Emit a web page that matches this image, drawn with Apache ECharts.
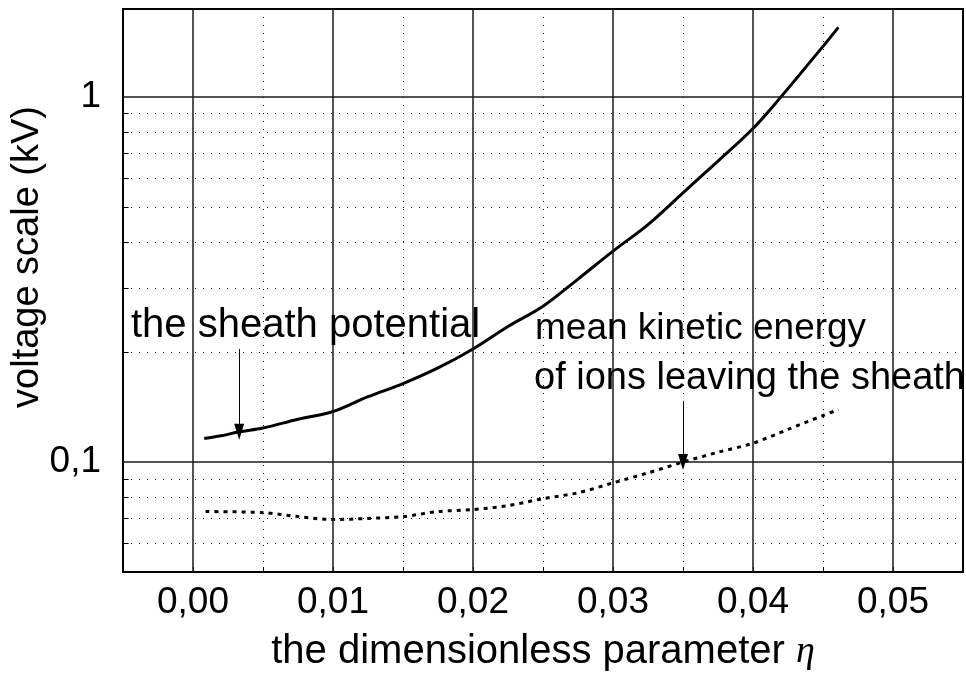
<!DOCTYPE html>
<html>
<head>
<meta charset="utf-8">
<script src="https://cdn.jsdelivr.net/npm/echarts@6/dist/echarts.min.js"></script>
<style>
  html, body { margin: 0; padding: 0; background: #fff; }
  #chart { width: 966px; height: 677px; }
</style>
</head>
<body>
<div id="chart"></div>
<script>
// Sheath potential versus the dimensionless parameter eta (kV, log scale)
const etaSheath = [0.0008, 0.002, 0.0033, 0.005, 0.0075, 0.01, 0.0125, 0.015, 0.0175, 0.02,
  0.0225, 0.025, 0.0275, 0.03, 0.0325, 0.035, 0.0375, 0.04, 0.042, 0.045, 0.0461];
const sheathPotential = [0.116, 0.118, 0.121, 0.124, 0.131, 0.1375, 0.151, 0.164, 0.181, 0.204,
  0.235, 0.267, 0.317, 0.378, 0.447, 0.546, 0.667, 0.819, 1.0, 1.375, 1.55];

// Mean kinetic energy of ions leaving the sheath (kV)
const etaKinetic = [0.0009, 0.005, 0.0075, 0.01, 0.0125, 0.015, 0.0175, 0.02, 0.0225, 0.025,
  0.0275, 0.03, 0.0325, 0.035, 0.0375, 0.04, 0.0425, 0.045, 0.0461];
const kineticEnergy = [0.0732, 0.0727, 0.0709, 0.0696, 0.0701, 0.0709, 0.0732, 0.0741, 0.076, 0.0794,
  0.0824, 0.0877, 0.0934, 0.1, 0.1064, 0.1126, 0.1229, 0.1341, 0.1392];

// Axis ticks and labels
const xTickValues = [0, 0.01, 0.02, 0.03, 0.04, 0.05];
const xTickLabels = ['0,00', '0,01', '0,02', '0,03', '0,04', '0,05'];
const yTickValues = [0.1, 1];
const yTickLabels = ['0,1', '1'];
const yMinorValues = [0.06, 0.07, 0.08, 0.09, 0.2, 0.3, 0.4, 0.5, 0.6, 0.7, 0.8, 0.9];

// Arrows pointing from the captions to the curves: [eta, from, to]
const sheathArrow = [0.0033, 0.204, 0.121];
const kineticArrow = [0.035, 0.147, 0.1];

const X_MIN = -0.005, X_MAX = 0.055, Y_MIN = 0.05, Y_MAX = 1.74;
const FONT = 'Liberation Sans, Arial, sans-serif';

function labelFor(values, labels, v) {
  for (let i = 0; i < values.length; i++) {
    if (Math.abs(values[i] - v) < 1e-9 * Math.max(1, Math.abs(v)) + 1e-9) return labels[i];
  }
  return '';
}

const solidGrid = { type: 'solid', color: '#1a1a1a', width: 1.5 };
const dotGrid = { type: [1, 7], color: '#000', width: 1 };

const gridLines = []
  .concat(yMinorValues.map(v => ({ yAxis: v, lineStyle: dotGrid })))
  .concat(xTickValues.map(v => ({ xAxis: v, lineStyle: solidGrid })))
  .concat(yTickValues.map(v => ({ yAxis: v, lineStyle: solidGrid })));

// short inward ticks on the value axis at each minor value
const Y_TICK_LEN = 0.0004;
const yTicks = yMinorValues.map(v => [
  { coord: [X_MIN, v], lineStyle: { type: 'solid', color: '#000', width: 1 } },
  { coord: [X_MIN + Y_TICK_LEN, v] }
]);

const chart = echarts.init(document.getElementById('chart'), null, { renderer: 'canvas' });

chart.setOption({
  animation: false,
  backgroundColor: '#fff',
  grid: {
    left: 123, top: 9, right: -3, bottom: 97,
    show: true, borderColor: '#000', borderWidth: 2, backgroundColor: 'transparent'
  },
  xAxis: [
    {
      type: 'value',
      min: X_MIN, max: X_MAX, interval: 0.005,
      axisLine: { show: false },
      axisTick: { show: true, inside: true, length: 5, lineStyle: { color: '#000', width: 1 } },
      splitLine: { show: false },
      axisLabel: {
        interval: 0, margin: 12, fontSize: 37, fontFamily: FONT, color: '#000',
        formatter: v => labelFor(xTickValues, xTickLabels, v)
      },
      name: '{a|the dimensionless parameter }{b|η}',
      nameLocation: 'middle',
      nameGap: 60,
      nameTextStyle: {
        rich: {
          a: { fontSize: 40, fontFamily: FONT, color: '#000' },
          b: { fontSize: 38, fontFamily: 'Liberation Serif, Times New Roman, serif', fontStyle: 'italic', color: '#000' }
        }
      }
    },
    {
      // dotted half-step lines: ticks counted from the minimum, one every 0.01
      type: 'value',
      position: 'top',
      min: X_MIN, max: X_MAX, interval: 0.01,
      axisLine: { show: false },
      axisTick: { show: false },
      axisLabel: { show: false },
      splitLine: { show: true, lineStyle: { type: [1, 7], color: '#000', width: 1 } }
    }
  ],
  yAxis: {
    type: 'log', logBase: 10,
    min: Y_MIN, max: Y_MAX,
    axisLine: { show: false },
    axisTick: { show: false },
    splitLine: { show: false },
    axisLabel: {
      margin: 22, fontSize: 37, fontFamily: FONT, color: '#000',
      showMinLabel: false, showMaxLabel: false,
      formatter: v => labelFor(yTickValues, yTickLabels, v)
    }
  },
  series: [
    {
      name: 'grid',
      type: 'line',
      data: [],
      z: 1,
      silent: true,
      markLine: {
        silent: true, symbol: 'none', animation: false,
        label: { show: false },
        data: gridLines.concat(yTicks)
      }
    },
    {
      name: 'the sheath potential',
      type: 'line',
      z: 3,
      smooth: 0.35,
      data: etaSheath.map((x, i) => [x, sheathPotential[i]]),
      showSymbol: false,
      lineStyle: { color: '#000', width: 3 },
      markLine: {
        silent: true, symbol: ['none', 'triangle'], symbolSize: [10, 16], animation: false,
        label: { show: false },
        lineStyle: { color: '#000', width: 1, type: 'solid' },
        data: [[{ coord: [sheathArrow[0], sheathArrow[1]] }, { coord: [sheathArrow[0], sheathArrow[2]] }]]
      }
    },
    {
      name: 'mean kinetic energy of ions leaving the sheath',
      type: 'line',
      z: 3,
      smooth: 0.3,
      data: etaKinetic.map((x, i) => [x, kineticEnergy[i]]),
      showSymbol: false,
      lineStyle: { color: '#000', width: 3, type: [4, 5] },
      markLine: {
        silent: true, symbol: ['none', 'triangle'], symbolSize: [10, 16], animation: false,
        label: { show: false },
        lineStyle: { color: '#000', width: 1, type: 'solid' },
        data: [[{ coord: [kineticArrow[0], kineticArrow[1]] }, { coord: [kineticArrow[0], kineticArrow[2]] }]]
      }
    }
  ],
  graphic: [
    {
      type: 'text', x: 28, y: 257, rotation: Math.PI / 2, z: 10,
      style: { text: 'voltage scale (kV)', fontSize: 38, fontFamily: FONT, fill: '#000',
        align: 'center', verticalAlign: 'middle', textAlign: 'center', textVerticalAlign: 'middle' }
    },
    {
      type: 'text', x: 131, y: 326, z: 10,
      style: { text: 'the sheath potential', fontSize: 40, fontFamily: FONT, fill: '#000',
        align: 'left', verticalAlign: 'middle', textAlign: 'left', textVerticalAlign: 'middle' }
    },
    {
      type: 'text', x: 535, y: 329, z: 10,
      style: { text: 'mean kinetic energy', fontSize: 37, fontFamily: FONT, fill: '#000',
        align: 'left', verticalAlign: 'middle', textAlign: 'left', textVerticalAlign: 'middle' }
    },
    {
      type: 'text', x: 534, y: 379, z: 10,
      style: { text: 'of ions leaving the sheath', fontSize: 38, fontFamily: FONT, fill: '#000',
        align: 'left', verticalAlign: 'middle', textAlign: 'left', textVerticalAlign: 'middle' }
    }
  ]
});
</script>
</body>
</html>
